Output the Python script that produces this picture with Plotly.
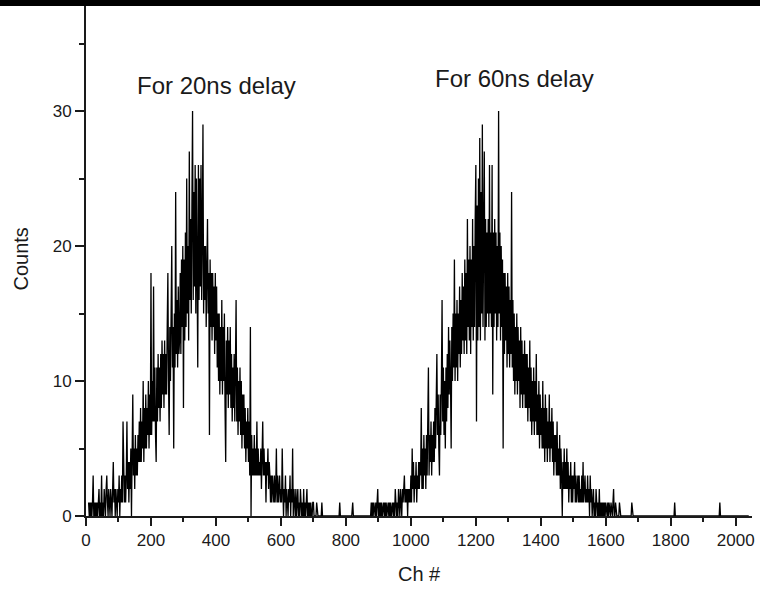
import plotly.graph_objects as go

step = 2
peak1_start = 8
peak1_counts = [
    1, 0, 1, 0, 1, 0, 1, 3, 0, 1, 0, 1, 0, 1, 0, 1, 2, 0, 1, 0,            # 8-46
    3, 0, 1, 0, 2, 1, 0, 2, 3, 1, 0, 2, 1, 0, 2, 1, 0, 2, 4, 1,            # 48-86
    2, 0, 2, 1, 0, 2, 1, 3, 0, 2, 1, 3, 1, 7, 2, 1, 3, 1, 3, 7,            # 88-126
    2, 4, 1, 4, 2, 5, 0, 4, 9, 3, 5, 2, 6, 3, 5, 3, 6, 4, 7, 4,            # 128-166
    8, 4, 7, 5, 10, 4, 8, 5, 9, 5, 8, 6, 10, 5, 9, 6, 18, 6, 10, 7,        # 168-206
    17, 7, 11, 6, 4, 11, 7, 12, 8, 11, 7, 12, 8, 13, 9, 12, 8, 13, 9, 12,  # 208-246
    9, 14, 18, 10, 6, 14, 10, 15, 20, 11, 14, 5, 15, 11, 24, 12, 16, 11, 17, 12,  # 248-286
    13, 18, 12, 19, 14, 20, 8, 19, 13, 21, 14, 25, 15, 20, 13, 27, 16, 22, 15, 23,  # 288-326
    30, 16, 24, 17, 26, 15, 25, 18, 11, 26, 16, 25, 17, 26, 16, 21, 29, 15, 20, 16,  # 328-366
    20, 14, 19, 22, 15, 18, 6, 19, 14, 18, 13, 18, 14, 17, 12, 18, 13, 17, 11, 15,  # 368-406
    10, 15, 9, 14, 10, 16, 9, 14, 10, 15, 8, 4, 13, 9, 14, 8, 13, 9, 14, 8,  # 408-446
    12, 7, 11, 8, 12, 7, 11, 16, 7, 11, 6, 10, 7, 11, 6, 10, 5, 9, 6, 9,   # 448-486
    5, 8, 4, 7, 5, 8, 4, 7, 3, 14, 0, 6, 3, 5, 3, 6, 3, 5, 3, 7,           # 488-526
    3, 5, 3, 4, 3, 5, 2, 4, 7, 3, 5, 3, 4, 1, 4, 3, 5, 2, 4, 3,            # 528-566
    1, 3, 1, 3, 2, 1, 3, 1, 2, 5, 1, 3, 1, 2, 3, 1, 2, 1, 5, 2,            # 568-606
    0, 2, 1, 3, 0, 2, 1, 0, 2, 1, 3, 0, 2, 1, 5, 0, 2, 1, 0, 2,            # 608-646
    0, 1, 2, 0, 1, 0, 2, 1, 0, 1, 0, 2, 0, 1, 0, 1, 2, 0, 1, 0,            # 648-686
    1, 0, 1, 0, 0, 1, 1, 0, 0, 0, 0, 1, 0, 0, 0, 0, 0, 0, 0, 1,            # 688-726
]
gap_channels = [728, 776, 779, 781, 783, 818, 821, 823, 874]
gap_counts = [0, 0, 0, 1, 0, 0, 1, 0, 0]

peak2_start = 876
peak2_counts = [
    0, 1, 0, 1, 0, 1, 0, 0, 1, 0, 1, 2, 0, 1, 0, 1, 0, 1, 0, 1,            # 876-914
    1, 0, 1, 0, 1, 0, 1, 1, 0, 1, 0, 1, 0, 1, 1, 0, 1, 0, 2, 1,            # 916-954
    0, 1, 0, 2, 1, 0, 2, 1, 0, 2, 1, 2, 3, 1, 2, 1, 2, 0, 2, 1,            # 956-994
    2, 1, 3, 1, 5, 2, 4, 1, 3, 2, 4, 1, 3, 2, 4, 2, 4, 3, 8, 2,            # 996-1034
    5, 2, 6, 3, 5, 2, 6, 3, 7, 11, 3, 6, 4, 7, 3, 6, 4, 7, 4, 8,           # 1036-1074
    5, 9, 12, 6, 9, 5, 3, 9, 6, 10, 16, 7, 11, 6, 10, 5, 11, 7, 12, 8,     # 1076-1114
    14, 9, 13, 10, 5, 14, 10, 15, 11, 19, 10, 15, 11, 16, 10, 15, 12, 17, 11, 16,  # 1116-1154
    12, 18, 13, 17, 12, 19, 13, 18, 12, 22, 14, 19, 13, 20, 12, 19, 14, 22, 13, 20,  # 1156-1194
    14, 22, 26, 7, 23, 13, 25, 14, 28, 13, 24, 15, 29, 14, 25, 27, 13, 22, 14, 21,  # 1196-1234
    15, 22, 14, 26, 15, 21, 14, 26, 9, 21, 14, 22, 15, 21, 13, 20, 14, 30, 15, 21,  # 1236-1274
    13, 20, 14, 19, 5, 18, 12, 18, 13, 17, 11, 18, 12, 17, 11, 16, 12, 24, 11, 16,  # 1276-1314
    10, 15, 9, 14, 10, 15, 9, 14, 10, 13, 8, 14, 9, 13, 8, 12, 9, 13, 8, 12,  # 1316-1354
    8, 12, 7, 11, 8, 13, 7, 11, 6, 10, 7, 11, 6, 10, 7, 12, 6, 9, 6, 10,   # 1356-1394
    5, 9, 6, 8, 5, 10, 5, 8, 4, 9, 5, 8, 4, 7, 5, 9, 4, 7, 5, 8,           # 1396-1434
    4, 7, 3, 6, 4, 6, 3, 7, 3, 5, 3, 6, 2, 5, 3, 0, 4, 2, 5, 2,            # 1436-1474
    4, 2, 5, 2, 4, 1, 3, 2, 4, 1, 3, 1, 3, 2, 4, 1, 3, 1, 2, 3,            # 1476-1514
    1, 3, 1, 2, 1, 3, 1, 4, 1, 2, 3, 1, 2, 1, 3, 1, 2, 0, 3, 1,            # 1516-1554
    2, 0, 1, 2, 0, 1, 0, 2, 1, 0, 1, 0, 2, 0, 1, 0, 1, 0, 1, 0,            # 1556-1594
    1, 0, 1, 0, 0, 1, 0, 1, 0, 0, 1, 0, 0, 1, 2, 0, 0, 1, 0, 0,            # 1596-1634
    0, 0, 0, 1, 0, 0, 0, 0, 0, 0, 0, 0, 0, 0, 0, 0, 0, 0, 0, 0,            # 1636-1674
    0, 0, 1, 0, 0, 0,                                                      # 1676-1686
]
tail_channels = [1688, 1810, 1812, 1814, 1949, 1951, 1953, 2040]
tail_counts = [0, 0, 1, 0, 0, 1, 0, 0]

label_texts = ["For 20ns delay", "For 60ns delay"]
label_x = [403, 1318]
label_y = [31.9, 32.4]

x_ticks = [0, 200, 400, 600, 800, 1000, 1200, 1400, 1600, 1800, 2000]
y_ticks = [0, 10, 20, 30]

# ---- assemble ----
peak1_ch = [peak1_start + step * i for i in range(len(peak1_counts))]
peak2_ch = [peak2_start + step * i for i in range(len(peak2_counts))]
xs = peak1_ch + gap_channels + peak2_ch + tail_channels
ys = peak1_counts + gap_counts + peak2_counts + tail_counts

font_family = "Liberation Sans, Arial, sans-serif"
ink = "#1a1a1a"

fig = go.Figure()
fig.add_trace(go.Scatter(x=xs, y=ys, mode="lines",
                         line=dict(color="#000000", width=1.3),
                         hoverinfo="skip", showlegend=False))

for t, ax, ay in zip(label_texts, label_x, label_y):
    fig.add_annotation(x=ax, y=ay, text=t, showarrow=False, xref="x", yref="y",
                       xanchor="center", yanchor="middle",
                       font=dict(family=font_family, size=24, color=ink))

# axis titles placed by pixel offsets from the plot area
fig.add_annotation(x=0, y=0.5, xref="paper", yref="paper", text="Counts",
                   textangle=-90, showarrow=False, xanchor="center",
                   yanchor="middle", xshift=-66,
                   font=dict(family=font_family, size=20, color=ink))
fig.add_annotation(x=0.5, y=0, xref="paper", yref="paper", text="Ch #",
                   showarrow=False, xanchor="center", yanchor="middle",
                   yshift=-58, font=dict(family=font_family, size=20, color=ink))

fig.add_shape(type="rect", xref="paper", yref="paper", x0=-0.2, x1=1.1,
              y0=1 - 3 / 513, y1=1 + 4 / 513, fillcolor="#000000",
              line=dict(width=0), layer="above")

fig.update_layout(
    width=760, height=591,
    margin=dict(l=86, r=8, t=3, b=75, autoexpand=False),
    paper_bgcolor="white", plot_bgcolor="white",
    font=dict(family=font_family, color=ink, size=17),
    xaxis=dict(range=[0, 2050], tickvals=x_ticks, ticks="outside", ticklen=8,
               tickwidth=2, tickcolor=ink, showline=True, linewidth=2,
               linecolor=ink, showgrid=False, zeroline=False, automargin=False,
               minor=dict(dtick=100, tick0=0, ticks="outside", ticklen=4,
                          tickwidth=2, tickcolor=ink, showgrid=False),
               tickfont=dict(size=17)),
    yaxis=dict(range=[0, 38], tickvals=y_ticks, ticks="outside", ticklen=9,
               tickwidth=2, tickcolor=ink, showline=True, linewidth=2,
               linecolor=ink, showgrid=False, zeroline=False, automargin=False,
               minor=dict(dtick=5, tick0=0, ticks="outside", ticklen=5,
                          tickwidth=2, tickcolor=ink, showgrid=False),
               tickfont=dict(size=17)),
)

fig.write_html("out.html", config={"displayModeBar": False},
               post_script="document.body.style.margin='0';document.body.style.padding='0';")
